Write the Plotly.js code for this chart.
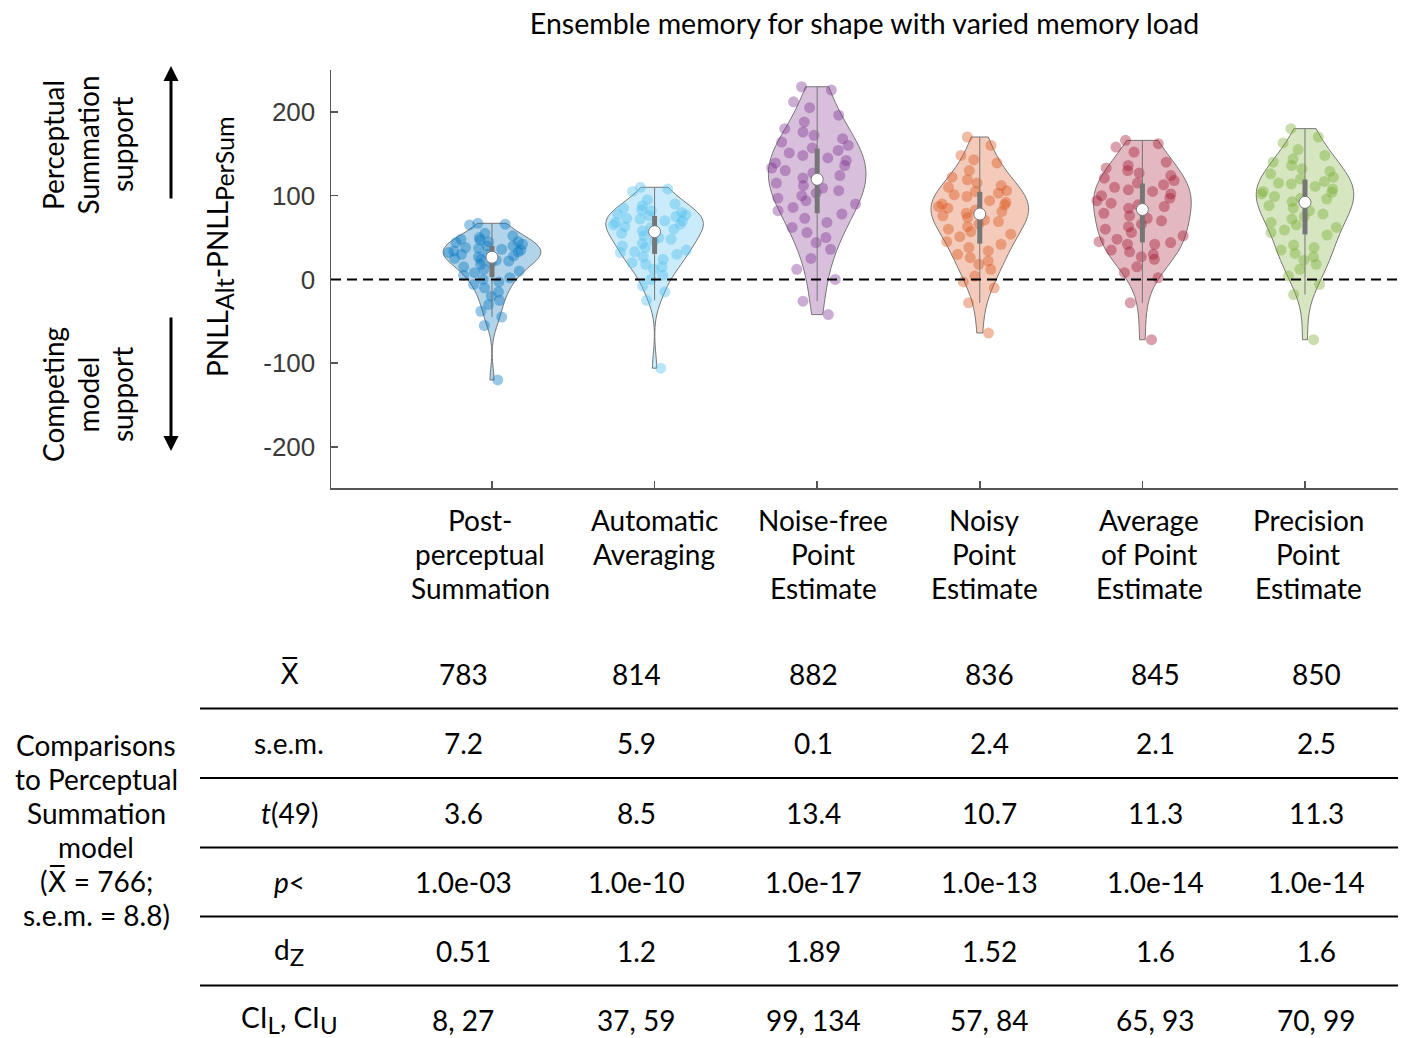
<!DOCTYPE html>
<html>
<head>
<meta charset="utf-8">
<script src="https://cdn.plot.ly/plotly-3.0.1.min.js"></script>
<style>html,body{margin:0;padding:0;background:#fff;}</style>
</head>
<body>
<div id="chart" style="width:1406px;height:1038px;"></div>
<script>
// ---------- data ----------
const modelNames = ['Post-perceptual Summation', 'Automatic Averaging', 'Noise-free Point Estimate',
                    'Noisy Point Estimate', 'Average of Point Estimate', 'Precision Point Estimate'];
const modelLabelLines = [['Post-', 'perceptual', 'Summation'], ['Automatic', 'Averaging'],
                         ['Noise-free', 'Point', 'Estimate'], ['Noisy', 'Point', 'Estimate'],
                         ['Average', 'of Point', 'Estimate'], ['Precision', 'Point', 'Estimate']];
const modelColors = ['0,114,189', '77,190,238', '126,47,142', '217,83,25', '162,20,47', '119,172,48'];

// PNLL(alternative) - PNLL(perceptual summation), one value per participant
const postPerceptualSummation = [67, 66, 65, 55, 52, 50, 48, 47, 45, 45, 44, 42, 40, 40, 38, 37, 36, 35, 34, 33,
  32, 30, 30, 28, 27, 26, 25, 24, 23, 22, 20, 18, 15, 12, 10, 8, 5, 2, 0, -3, -6, -10, -15, -20, -25, -30, -38,
  -45, -55, -120];
const automaticAveraging = [110, 108, 105, 95, 90, 88, 85, 83, 82, 80, 78, 77, 76, 75, 73, 72, 70, 70, 68, 66,
  65, 63, 62, 60, 58, 56, 55, 52, 50, 48, 46, 43, 40, 38, 35, 33, 32, 30, 27, 24, 20, 18, 15, 12, 5, 0, -8, -15,
  -25, -106];
const noiseFreePointEstimate = [230, 226, 212, 205, 196, 188, 180, 176, 172, 168, 164, 160, 157, 154, 151, 148,
  145, 142, 139, 136, 133, 130, 127, 124, 121, 118, 115, 112, 109, 106, 103, 100, 97, 94, 90, 86, 82, 78, 73, 68,
  62, 56, 50, 44, 36, 25, 12, 0, -26, -42];
const noisyPointEstimate = [170, 160, 148, 143, 139, 130, 122, 119, 115, 112, 110, 106, 105, 103, 101, 99, 94, 92,
  90, 89, 87, 85, 83, 81, 79, 77, 76, 74, 71, 69, 66, 63, 60, 57, 54, 51, 45, 42, 38, 34, 30, 26, 22, 18, 12, 4,
  -3, -10, -28, -64];
const averageOfPointEstimate = [166, 162, 158, 152, 140, 136, 133, 130, 127, 124, 121, 118, 115, 113, 110, 107,
  105, 102, 100, 97, 94, 91, 89, 87, 85, 82, 79, 76, 73, 70, 66, 63, 60, 56, 52, 48, 45, 44, 42, 42, 35, 33, 30,
  27, 24, 15, 8, 2, -28, -72];
const precisionPointEstimate = [180, 170, 163, 155, 148, 144, 140, 136, 132, 129, 126, 122, 120, 117, 115, 114,
  111, 108, 105, 104, 102, 99, 97, 96, 93, 91, 88, 85, 82, 78, 75, 72, 68, 65, 62, 59, 56, 53, 41, 38, 35, 31, 27,
  23, 18, 12, 4, -6, -18, -72];

const yTickValues = [-200, -100, 0, 100, 200];
const yTickLabels = ['-200', '-100', '0', '100', '200'];

// statistics table
const XBAR = '<span style="font-family:\'DejaVu Sans\'">X\u0305</span>';
const statRowLabels = [XBAR, 's.e.m.', '<i>t</i>(49)', '<i>p</i>&lt;',
                       'd<sub><span style="font-size:24px">Z</span></sub>',
                       'CI<sub><span style="font-size:24px">L</span></sub>, CI<sub><span style="font-size:24px">U</span></sub>'];
const statMean = ['783', '814', '882', '836', '845', '850'];
const statSem = ['7.2', '5.9', '0.1', '2.4', '2.1', '2.5'];
const statT = ['3.6', '8.5', '13.4', '10.7', '11.3', '11.3'];
const statP = ['1.0e-03', '1.0e-10', '1.0e-17', '1.0e-13', '1.0e-14', '1.0e-14'];
const statDz = ['0.51', '1.2', '1.89', '1.52', '1.6', '1.6'];
const statCI = ['8, 27', '37, 59', '99, 134', '57, 84', '65, 93', '70, 99'];
const referenceLabelLines = ['Comparisons', 'to Perceptual', 'Summation', 'model',
                             '(' + XBAR + ' = 766;', 's.e.m. = 8.8)'];

// ---------- drawing ----------
const series = [postPerceptualSummation, automaticAveraging, noiseFreePointEstimate,
                noisyPointEstimate, averageOfPointEstimate, precisionPointEstimate];
const tableRows = [statMean, statSem, statT, statP, statDz, statCI];

const FONT = 'Lato, "Noto Sans", sans-serif';
const TICK_FONT = '"Liberation Sans", Arial, sans-serif';
const GREY = 'rgb(118,118,118)';

// page geometry (pixels) and conversion to paper coordinates
const PLOT = {l: 331, r: 1398, t: 70, b: 488};
const fx = p => (p - PLOT.l) / (PLOT.r - PLOT.l);
const fy = p => (PLOT.b - p) / (PLOT.b - PLOT.t);

function quantile(sorted, q) {
  const pos = (sorted.length - 1) * q;
  const lo = Math.floor(pos), hi = Math.ceil(pos);
  return sorted[lo] + (sorted[hi] - sorted[lo]) * (pos - lo);
}
function summary(vals) {
  const s = vals.slice().sort((a, b) => a - b);
  const q1 = quantile(s, 0.25), med = quantile(s, 0.5), q3 = quantile(s, 0.75);
  const iqr = q3 - q1;
  const lo = s.find(v => v >= q1 - 1.5 * iqr);
  const hi = s.slice().reverse().find(v => v <= q3 + 1.5 * iqr);
  return {q1, med, q3, lo, hi};
}

const traces = [];
series.forEach((vals, i) => {
  const c = modelColors[i];
  traces.push({
    type: 'violin', name: modelNames[i], x0: i, y: vals,
    width: 0.6, spanmode: 'hard', points: 'all', pointpos: 0, jitter: 1,
    fillcolor: `rgba(${c},0.3)`, line: {color: GREY, width: 1},
    marker: {size: 11, color: `rgba(${c},0.4)`, line: {width: 0}},
    box: {visible: false}, meanline: {visible: false}, hoverinfo: 'y'
  });
});
series.forEach((vals, i) => {
  const s = summary(vals);
  traces.push({type: 'scatter', mode: 'lines', x: [i, i], y: [s.lo, s.hi],
               line: {color: GREY, width: 1}, hoverinfo: 'skip'});
  traces.push({type: 'scatter', mode: 'lines', x: [i, i], y: [s.q1, s.q3],
               line: {color: GREY, width: 5}, hoverinfo: 'skip'});
  traces.push({type: 'scatter', mode: 'markers', x: [i], y: [s.med],
               marker: {size: 12, color: '#ffffff', line: {color: GREY, width: 1}}, hoverinfo: 'y'});
});

function text(t, x, y, extra) {
  return Object.assign({
    text: t, xref: 'paper', yref: 'paper', x: fx(x), y: fy(y), showarrow: false,
    xanchor: 'center', yanchor: 'middle', font: {family: FONT, size: 28, color: '#000'}
  }, extra || {});
}

const annotations = [];

// model names under the axis
const labelX = [480, 654, 823, 984, 1149, 1308];
modelLabelLines.forEach((lines, i) => {
  lines.forEach((ln, k) => annotations.push(text(ln, labelX[i], 520 + 34 * k)));
});

// y axis title
annotations.push(text('PNLL<sub><span style="font-size:25px">Alt</span></sub>-PNLL<sub><span style="font-size:25px">PerSum</span></sub>',
                      219, 247, {textangle: -90}));

// direction notes and arrows on the left
['Perceptual', 'Summation', 'support'].forEach((ln, k) =>
  annotations.push(text(ln, 53 + 34.5 * k, 145, {textangle: -90})));
['Competing', 'model', 'support'].forEach((ln, k) =>
  annotations.push(text(ln, 53 + 34.5 * k, 395, {textangle: -90})));
annotations.push({xref: 'paper', yref: 'paper', x: fx(171), y: fy(66), ax: 0, ay: 134, text: '',
                  showarrow: true, arrowhead: 2, arrowsize: 1, arrowwidth: 3, arrowcolor: '#000'});
annotations.push({xref: 'paper', yref: 'paper', x: fx(171), y: fy(451), ax: 0, ay: -135, text: '',
                  showarrow: true, arrowhead: 2, arrowsize: 1, arrowwidth: 3, arrowcolor: '#000'});

// statistics table
const rowY = [674, 743, 813, 882, 951, 1020];
const colX = [463, 636, 813, 989, 1155, 1316];
statRowLabels.forEach((lab, r) => annotations.push(text(lab, 289, rowY[r])));
tableRows.forEach((row, r) => row.forEach((v, c) => annotations.push(text(v, colX[c], rowY[r]))));
referenceLabelLines.forEach((ln, k) => annotations.push(text(ln, 96, 745 + 34 * k)));

const shapes = [
  {type: 'line', xref: 'paper', yref: 'y', x0: 0, x1: 1, y0: 0, y1: 0, layer: 'above',
   line: {color: '#000', width: 2, dash: '10px,6px'}}
];
for (let r = 0; r < rowY.length - 1; r++) {
  const ym = (rowY[r] + rowY[r + 1]) / 2;
  shapes.push({type: 'line', xref: 'paper', yref: 'paper', x0: fx(200), x1: 1, y0: fy(ym), y1: fy(ym),
               line: {color: '#000', width: 2}});
}

const layout = {
  width: 1406, height: 1038,
  margin: {l: PLOT.l, r: 1406 - PLOT.r, t: PLOT.t, b: 1038 - PLOT.b, pad: 0},
  paper_bgcolor: '#fff', plot_bgcolor: '#fff',
  showlegend: false, violinmode: 'overlay',
  title: {text: 'Ensemble memory for shape with varied memory load', x: 0.5, xref: 'paper',
          y: 1 - 24 / 1038, yref: 'container', yanchor: 'middle',
          font: {family: FONT, size: 28.5, color: '#000'}},
  xaxis: {type: 'linear', range: [-0.99, 5.572], tickvals: [0, 1, 2, 3, 4, 5], showticklabels: false,
          ticks: 'inside', ticklen: 7, tickwidth: 1.5, tickcolor: '#555',
          showline: true, linecolor: '#555', linewidth: 1.5, showgrid: false, zeroline: false},
  yaxis: {range: [-249, 250], tickvals: yTickValues, ticktext: yTickLabels, ticks: 'inside', ticklen: 7,
          tickwidth: 1.5, tickcolor: '#555', showline: true, linecolor: '#555', linewidth: 1.5,
          showgrid: false, zeroline: false, ticklabelstandoff: 9,
          tickfont: {family: TICK_FONT, size: 26, color: '#3a3a3a'}},
  annotations: annotations,
  shapes: shapes
};

Plotly.newPlot('chart', traces, layout, {displayModeBar: false, staticPlot: true});
</script>
</body>
</html>
